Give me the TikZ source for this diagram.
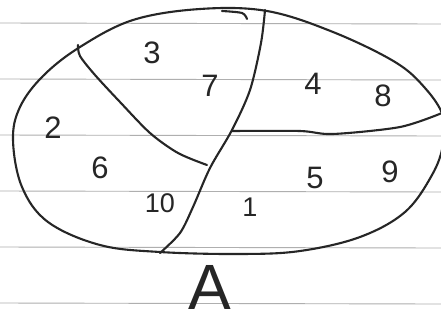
\documentclass[tikz,border=0pt]{standalone}
\usepackage{fontspec}
\setmainfont{Liberation Sans}
\usepackage{xcolor}
\usepackage{tikz}
\usetikzlibrary{positioning}
\definecolor{PenInk}{RGB}{38, 38, 38}
\definecolor{RuleGrey}{RGB}{175, 175, 175}
\tikzset{
  pen/.style={PenInk, line width=2.1pt, line cap=round, line join=round},
  digit/.style={inner sep=0pt, text=PenInk, font=\fontsize{31}{33}\selectfont}
}

\begin{document}
\begin{tikzpicture}[x=1pt,y=-1pt]
  \path[use as bounding box] (0,0) rectangle (441,322);
  \fill[white] (0,0) rectangle (441,322);
  \clip (0,0) rectangle (441,322);
  % ruled paper
  \foreach \y in {23,79,135,191,247,303}{
    \draw[RuleGrey, line width=0.9pt] (0,\y) -- (441,\y+1);
  }
  % outline of the set
  \draw[pen] plot[smooth cycle, tension=0.6] coordinates {
    (200,9) (267,11) (333,32) (395,62) (425,88) (443,116) (443,145)
    (432,175) (405,212) (360,237) (300,251) (240,254) (160,252)
    (100,245) (48,222) (22,187) (13,140) (20,107) (43,76) (80,47) (133,20)};
  \draw[pen] plot[smooth] coordinates {(222,11) (242,13) (247,19)};
  % dividing strokes
  \draw[pen] plot[smooth] coordinates {
    (265,10) (261,43) (250,90) (232,130) (210,168) (193,207) (180,233) (160,253)};
  \draw[pen] plot[smooth] coordinates {
    (78,45) (80,56) (95,75) (120,102) (150,133) (178,153) (207,165)};
  \draw[pen] plot[smooth] coordinates {
    (232,131) (300,131) (333,134) (400,127) (442,113)};
  % elements
  \node[digit] (n3) at (152,53) {3};
  \node[digit] (n7) at (210,86) {7};
  \node[digit] (n4) at (313,84) {4};
  \node[digit] (n8) at (383,96) {8};
  \node[digit] (n2) at (53,128) {2};
  \node[digit] (n6) at (100,168) {6};
  \node[digit] (n5) at (315,178) {5};
  \node[digit] (n9) at (390,172) {9};
  \node[digit, font=\fontsize{27}{29}\selectfont] (n10) at (160,203) {10};
  \node[digit, font=\fontsize{27}{29}\selectfont] (n1) at (250,207) {1};
  \node[digit, font=\fontsize{64}{66}\selectfont] (setA) at (210,287) {A};
\end{tikzpicture}
\end{document}
